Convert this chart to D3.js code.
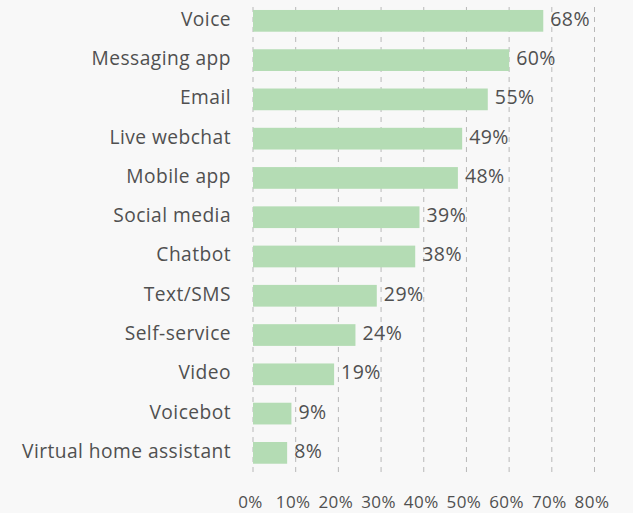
<!DOCTYPE html>
<html>
<head>
<meta charset="utf-8">
<script src="https://cdn.jsdelivr.net/npm/d3@7"></script>
<style>
  html, body { margin: 0; padding: 0; background: #f8f8f8; }
  svg { display: block; }
  text { font-family: "Open Sans", "Noto Sans", sans-serif; fill: #505050; letter-spacing: 0.45px; }
</style>
</head>
<body>
<svg id="chart" width="633" height="513"></svg>
<script>
// Share of respondents using each contact channel
const channels = ["Voice", "Messaging app", "Email", "Live webchat", "Mobile app",
  "Social media", "Chatbot", "Text/SMS", "Self-service", "Video", "Voicebot",
  "Virtual home assistant"];
const shares = [68, 60, 55, 49, 48, 39, 38, 29, 24, 19, 9, 8];
const tickValues = [0, 10, 20, 30, 40, 50, 60, 70, 80];

const svg = d3.select("#chart");
const W = 633, H = 513;

svg.append("rect").attr("width", W).attr("height", H).attr("fill", "#f8f8f8");

const x = d3.scaleLinear().domain([0, 80]).range([253, 594.5]);
const y = d3.scaleBand().domain(channels).range([1.2, 472.5])
  .paddingInner(0.447).paddingOuter(0.2235);

// dashed vertical gridlines
svg.append("g").selectAll("line").data(tickValues).join("line")
  .attr("x1", d => x(d)).attr("x2", d => x(d))
  .attr("y1", 7).attr("y2", 476)
  .attr("stroke", "#b8b8b8").attr("stroke-width", 1)
  .attr("stroke-dasharray", "5,5");

// bars
svg.append("g").selectAll("rect").data(channels).join("rect")
  .attr("x", x(0))
  .attr("y", d => y(d))
  .attr("width", (d, i) => x(shares[i]) - x(0))
  .attr("height", y.bandwidth())
  .attr("fill", "#b4dcb4");

// category labels
svg.append("g").selectAll("text").data(channels).join("text")
  .attr("x", 231)
  .attr("y", d => y(d) + y.bandwidth() / 2 + 5)
  .attr("text-anchor", "end")
  .attr("font-size", 19.2)
  .text(d => d);

// value labels
svg.append("g").selectAll("text").data(channels).join("text")
  .attr("x", (d, i) => x(shares[i]) + 7)
  .attr("y", d => y(d) + y.bandwidth() / 2 + 5)
  .attr("font-size", 19.5)
  .text((d, i) => shares[i] + "%");

// x axis tick labels
const axis = d3.axisBottom(x).tickValues(tickValues)
  .tickFormat(d => d + "%").tickSize(0).tickPadding(0);
const ax = svg.append("g").attr("transform", "translate(-3,508)").call(axis);
ax.select(".domain").remove();
ax.selectAll("text")
  .attr("dy", null)
  .attr("y", 0)
  .attr("font-size", 17)
  .style("font-family", "'Open Sans', 'Noto Sans', sans-serif")
  .attr("fill", "#505050");
</script>
</body>
</html>
